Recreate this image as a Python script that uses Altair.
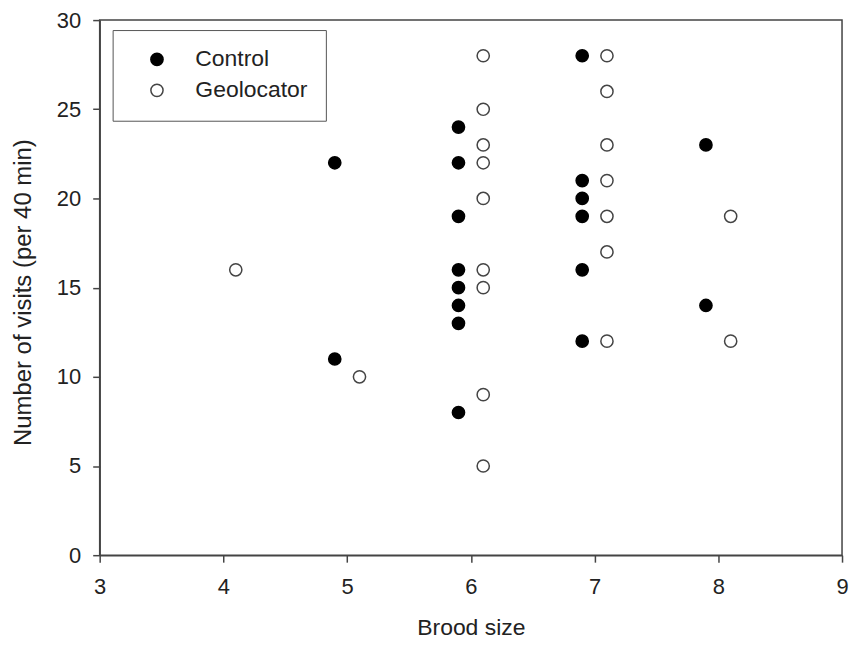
import altair as alt
import pandas as pd

# Control (filled circles): x position as plotted, visits
control_x = [4.9, 4.9,
             5.9, 5.9, 5.9, 5.9, 5.9, 5.9, 5.9, 5.9,
             6.9, 6.9, 6.9, 6.9, 6.9, 6.9,
             7.9, 7.9]
control_y = [22, 11,
             24, 22, 19, 16, 15, 14, 13, 8,
             28, 21, 20, 19, 16, 12,
             23, 14]

# Geolocator (open circles)
geo_x = [4.1, 5.1,
         6.1, 6.1, 6.1, 6.1, 6.1, 6.1, 6.1, 6.1, 6.1,
         7.1, 7.1, 7.1, 7.1, 7.1, 7.1, 7.1,
         8.1, 8.1]
geo_y = [16, 10,
         28, 25, 23, 22, 20, 16, 15, 9, 5,
         28, 26, 23, 21, 19, 17, 12,
         19, 12]

groups = ["Control", "Geolocator"]
x_ticks = [3, 4, 5, 6, 7, 8, 9]
y_ticks = [0, 5, 10, 15, 20, 25, 30]

df = pd.DataFrame({
    "brood": control_x + geo_x,
    "visits": control_y + geo_y,
    "group": [groups[0]] * len(control_x) + [groups[1]] * len(geo_x),
})

FONT = "Liberation Sans"
AX = "#444444"

leg = alt.Legend(
    title=None, orient="none", legendX=13, legendY=10,
    strokeColor="#555555", fillColor="white", padding=18,
    symbolOffset=15, labelOffset=27, labelFontSize=23, labelFont=FONT,
    labelColor="#222222", rowPadding=7, symbolSize=150, symbolStrokeWidth=1.5,
    symbolType="circle",
)

chart = alt.Chart(df).mark_point(filled=True, size=150, strokeWidth=1.5, opacity=1).encode(
    x=alt.X("brood:Q", title="Brood size",
            scale=alt.Scale(domain=[3, 9], nice=False, zero=False),
            axis=alt.Axis(values=x_ticks, format="d", grid=False, tickSize=7, labelFlush=False,
                          labelPadding=14, titleY=73, titleBaseline="middle", titleFontSize=23)),
    y=alt.Y("visits:Q", title="Number of visits (per 40 min)",
            scale=alt.Scale(domain=[0, 30], nice=False),
            axis=alt.Axis(values=y_ticks, format="d", grid=False, tickSize=7, labelFlush=False,
                          labelPadding=12, titleX=-76, titleY=273, titleBaseline="middle",
                          titleFontSize=24)),
    fill=alt.Fill("group:N", scale=alt.Scale(domain=groups, range=["black", "white"]), legend=leg),
    stroke=alt.Stroke("group:N", scale=alt.Scale(domain=groups, range=["black", "#444444"]), legend=leg),
).properties(
    width=745, height=537,
    autosize=alt.AutoSizeParams(type="none"),
    padding={"left": 92, "top": 11, "right": 8, "bottom": 88},
).configure_view(
    stroke=AX, strokeWidth=1.5
).configure_axis(
    domainColor=AX, domainWidth=1.5, tickColor=AX, tickWidth=1.5,
    labelFont=FONT, labelFontSize=22, labelColor="#222222",
    titleFont=FONT, titleFontSize=22, titleColor="#222222", titleFontWeight="normal",
)

chart.save("out.html", embed_options={"renderer": "svg", "actions": False})
